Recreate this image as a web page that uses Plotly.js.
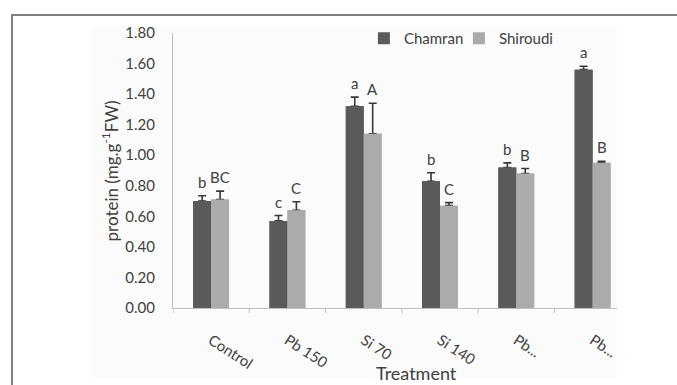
<!DOCTYPE html>
<html>
<head>
<meta charset="utf-8">
<script src="https://cdn.plot.ly/plotly-3.0.1.min.js"></script>
<style>html,body{margin:0;padding:0;background:#fff;}#chart{width:677px;height:385px;}</style>
</head>
<body>
<div id="chart"></div>
<script>
var categories = ['Control', 'Pb 150', 'Si 70', 'Si 140', 'Pb...', 'Pb...'];
var chamranValues = [0.70, 0.57, 1.32, 0.83, 0.92, 1.56];
var chamranErrors = [0.035, 0.035, 0.06, 0.055, 0.03, 0.022];
var shiroudiValues = [0.71, 0.64, 1.14, 0.67, 0.88, 0.95];
var shiroudiErrors = [0.055, 0.055, 0.20, 0.02, 0.033, 0.01];
var chamranLetters = ['b', 'c', 'a', 'b', 'b', 'a'];
var shiroudiLetters = ['BC', 'C', 'A', 'C', 'B', 'B'];
var yTicks = [0, 0.2, 0.4, 0.6, 0.8, 1.0, 1.2, 1.4, 1.6, 1.8];

var FONT = 'Lato, "Open Sans", sans-serif';
var TEXT = '#404040';
var DARK = '#5a5a5a', LIGHT = '#ababab';
var bargap = 0.53;
var xRange = [-0.5, 5.32];
var yRange = [0, 1.8];
var idx = categories.map(function (c, i) { return i; });
var zeros = categories.map(function () { return 0; });

function errBar(arr) {
  return {type: 'data', symmetric: false, array: arr, arrayminus: zeros,
          color: '#3a3a3a', thickness: 1.6, width: 4};
}

var traces = [
  // lower layer: bars carrying the error bars (their lower ends get covered)
  {type: 'bar', name: 'Chamran', x: idx, y: chamranValues, marker: {color: DARK},
   error_y: errBar(chamranErrors), showlegend: false, xaxis: 'x', yaxis: 'y'},
  {type: 'bar', name: 'Shiroudi', x: idx, y: shiroudiValues, marker: {color: LIGHT},
   error_y: errBar(shiroudiErrors), showlegend: false, xaxis: 'x', yaxis: 'y'},
  // upper layer: the visible bars
  {type: 'bar', name: 'Chamran', x: idx, y: chamranValues, marker: {color: DARK},
   xaxis: 'x2', yaxis: 'y2'},
  {type: 'bar', name: 'Shiroudi', x: idx, y: shiroudiValues, marker: {color: LIGHT},
   xaxis: 'x2', yaxis: 'y2'}
];

var half = (1 - bargap) / 4;
var annotations = [];
idx.forEach(function (i) {
  annotations.push({x: i - half, y: chamranValues[i] + chamranErrors[i], xref: 'x', yref: 'y',
    text: chamranLetters[i], showarrow: false, xanchor: 'center', yanchor: 'bottom', yshift: 3,
    font: {family: FONT, size: 15, color: TEXT}});
  annotations.push({x: i + half, y: shiroudiValues[i] + shiroudiErrors[i], xref: 'x', yref: 'y',
    text: shiroudiLetters[i], showarrow: false, xanchor: 'center', yanchor: 'bottom', yshift: 3,
    font: {family: FONT, size: 15, color: TEXT}});
});
annotations.push({x: -0.142, y: 0.5, xref: 'paper', yref: 'paper', textangle: -90,
  xanchor: 'center', yanchor: 'middle',
  text: 'protein (mg.g<sup>-1</sup>FW)', showarrow: false,
  font: {family: FONT, size: 17, color: TEXT}});
annotations.push({x: 0.5495, y: -0.236, xref: 'paper', yref: 'paper',
  xanchor: 'center', yanchor: 'middle',
  text: 'Treatment', showarrow: false,
  font: {family: FONT, size: 18, color: TEXT}});

var xCommon = {
  type: 'linear', range: xRange, tickmode: 'array', tickvals: idx, ticktext: categories,
  tickangle: 33, showgrid: false, zeroline: false, ticks: ''
};
var yCommon = {range: yRange, showgrid: false, zeroline: false};

var layout = {
  width: 677, height: 385,
  margin: {l: 173, r: 60, t: 33, b: 77},
  paper_bgcolor: '#ffffff', plot_bgcolor: 'rgba(0,0,0,0)',
  barmode: 'group', bargap: bargap, bargroupgap: 0,
  showlegend: true,
  legend: {orientation: 'h', x: 0.43, y: 0.98, xanchor: 'left', yanchor: 'middle',
           entrywidth: 50, entrywidthmode: 'pixels',
           font: {family: FONT, size: 15, color: TEXT}, bgcolor: 'rgba(0,0,0,0)', traceorder: 'normal'},
  xaxis: Object.assign({}, xCommon, {
    showline: true, linecolor: '#bfbfbf', linewidth: 1,
    ticklabelstandoff: 17,
    tickfont: {family: FONT, size: 15, color: TEXT}
  }),
  yaxis: Object.assign({}, yCommon, {
    tickmode: 'array', tickvals: yTicks,
    ticktext: yTicks.map(function (v) { return v.toFixed(2); }),
    showline: true, linecolor: '#bfbfbf', linewidth: 1,
    ticks: 'outside', ticklen: 0, ticklabelstandoff: 14,
    tickfont: {family: FONT, size: 15, color: TEXT}
  }),
  xaxis2: Object.assign({}, xCommon, {overlaying: 'x', anchor: 'y2', showticklabels: false, showline: false}),
  yaxis2: Object.assign({}, yCommon, {overlaying: 'y', anchor: 'x2', showticklabels: false, showline: false}),
  annotations: annotations,
  shapes: [
    {type: 'rect', xref: 'paper', yref: 'paper', x0: -0.1824, x1: 1.0, y0: -0.2545, y1: 1.0218,
     fillcolor: '#fbfbfb', line: {width: 0}, layer: 'below'},
    {type: 'rect', xref: 'paper', yref: 'paper', x0: -0.3626, x1: 1.16, y0: -0.32, y1: 1.0655,
     fillcolor: 'rgba(0,0,0,0)', line: {color: '#7f7f7f', width: 2}, layer: 'below'}
  ]
};
// tick marks on group boundaries
idx.forEach(function (i) {
  layout.shapes.push({type: 'line', xref: 'x', yref: 'paper', x0: i - 0.5, x1: i - 0.5,
    y0: 0, y1: -0.018, line: {color: '#bfbfbf', width: 1}});
});

Plotly.newPlot('chart', traces, layout, {displayModeBar: false, staticPlot: true});
</script>
</body>
</html>
